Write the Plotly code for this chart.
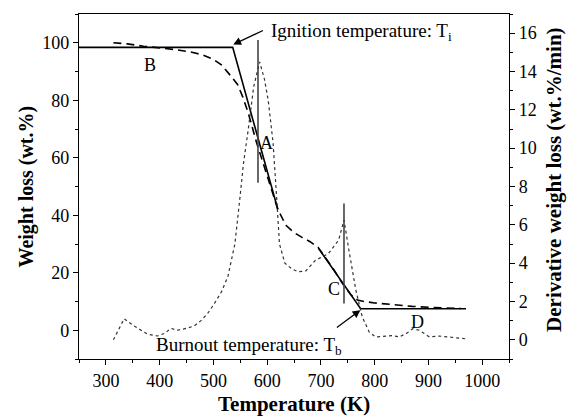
import plotly.graph_objects as go

# TG curve (dashed), weight loss wt.%
tg_T = [314, 340, 370, 400, 430, 460, 480, 500, 515, 530, 545, 555, 565, 580, 600, 620,
        635, 650, 665, 680, 695, 710, 725, 740, 755, 768, 780, 800, 830, 870, 910, 960]
tg_w = [100, 99.6, 98.8, 98.2, 97.6, 96.7, 95.8, 94.2, 92.3, 89.0, 85.5, 81.0, 75.5, 65.5, 53.5, 42,
        36.5, 34.0, 32.3, 30.8, 28.8, 25.0, 20.8, 16.3, 12.5, 10.5, 10.0, 9.5, 8.9, 8.3, 7.9, 7.6]

# DTG curve (dotted), wt.%/min
dtg_T = [314, 334, 351, 377, 396, 410, 421, 433, 450, 464, 477, 490, 502, 515, 527, 540, 549,
         556, 565, 575, 586, 595, 602, 611, 618, 623, 633, 646, 658, 672, 690, 714, 733, 743,
         752, 765, 777, 790, 802, 818, 834, 846, 860, 871, 883, 902, 920, 940, 955, 971]
dtg_v = [0.0, 1.1, 0.75, 0.3, 0.2, 0.35, 0.6, 0.5, 0.6, 0.72, 1.0, 1.4, 1.9, 2.5, 3.3, 5.0, 7.3,
         9.2, 11.0, 13.2, 14.5, 13.6, 12.5, 10.3, 7.3, 5.0, 4.0, 3.7, 3.55, 3.6, 4.15, 4.5, 5.2, 6.25,
         4.7, 2.6, 1.2, 0.4, 0.15, 0.2, 0.22, 0.15, 0.35, 0.58, 0.5, 0.15, 0.2, 0.14, 0.1, 0.05]

# Tangent construction lines (solid)
tan_T = [250, 536, 620]
tan_w = [98.4, 98.4, 42]
tan2_T = [696, 774, 970]
tan2_w = [28.4, 7.5, 7.5]

# Vertical marker lines at DTG peaks
vA_T = [583, 583]
vA_w = [101, 51.3]
vC_T = [743, 743]
vC_w = [44.1, 9.3]

# Region labels
lab_text = ["B", "A", "C", "D"]
lab_T = [383, 599, 724, 880]
lab_w = [92.3, 65, 14.5, 2.9]

x_ticks = [300, 400, 500, 600, 700, 800, 900, 1000]
y_ticks = [0, 20, 40, 60, 80, 100]
y2_ticks = [0, 2, 4, 6, 8, 10, 12, 14, 16]

FONT = "Liberation Serif, Times New Roman, serif"

fig = go.Figure()
fig.add_trace(go.Scatter(x=dtg_T, y=dtg_v, yaxis="y2", mode="lines",
                         line=dict(color="#333333", width=1.2, dash="dot"), showlegend=False))
fig.add_trace(go.Scatter(x=tg_T, y=tg_w, mode="lines",
                         line=dict(color="black", width=1.6, dash="8px,5px"), showlegend=False))
for xs, ys in [(tan_T, tan_w), (tan2_T, tan2_w)]:
    fig.add_trace(go.Scatter(x=xs, y=ys, mode="lines",
                             line=dict(color="black", width=1.6), showlegend=False))
for xs, ys in [(vA_T, vA_w), (vC_T, vC_w)]:
    fig.add_trace(go.Scatter(x=xs, y=ys, mode="lines",
                             line=dict(color="#444444", width=1.6), showlegend=False))

for t, xx, yy in zip(lab_text, lab_T, lab_w):
    fig.add_annotation(x=xx, y=yy, text=t, showarrow=False,
                       font=dict(family=FONT, size=18, color="black"))

# Ignition arrow and text
fig.add_annotation(x=537, y=99.4, ax=595, ay=104.5, xref="x", yref="y", axref="x", ayref="y",
                   text="", showarrow=True, arrowhead=2, arrowsize=1.2, arrowwidth=1.3, arrowcolor="black")
fig.add_annotation(x=603, y=103.8, text="Ignition temperature: T<sub>i</sub>", showarrow=False,
                   xanchor="left", font=dict(family=FONT, size=19, color="black"))
# Burnout arrow and text
fig.add_annotation(x=773.5, y=7.0, ax=727, ay=0.6, xref="x", yref="y", axref="x", ayref="y",
                   text="", showarrow=True, arrowhead=2, arrowsize=1.2, arrowwidth=1.3, arrowcolor="black")
fig.add_annotation(x=389, y=-5.6, text="Burnout temperature: T<sub>b</sub>", showarrow=False,
                   xanchor="left", font=dict(family=FONT, size=19, color="black"))

# Axis titles (placed in paper coordinates)
fig.add_annotation(x=0.5, y=-0.172, xref="paper", yref="paper", text="<b>Temperature (K)</b>",
                   showarrow=False, yanchor="bottom", font=dict(family=FONT, size=21, color="black"))
fig.add_annotation(x=-0.121, y=0.5, xref="paper", yref="paper", text="<b>Weight loss (wt.%)</b>",
                   showarrow=False, textangle=-90, xanchor="center",
                   font=dict(family=FONT, size=20, color="black"))
fig.add_annotation(x=1.103, y=0.52, xref="paper", yref="paper",
                   text="<b>Derivative weight loss (wt.%/min)</b>",
                   showarrow=False, textangle=-90, xanchor="center",
                   font=dict(family=FONT, size=21, color="black"))

axis_common = dict(showline=True, linecolor="black", linewidth=1.3, ticks="outside", ticklen=5,
                   tickwidth=1.2, tickcolor="black", showgrid=False, zeroline=False, automargin=False,
                   tickfont=dict(family=FONT, size=18, color="black"))

fig.update_layout(
    width=567, height=419,
    margin=dict(l=79, r=58, t=14, b=60),
    paper_bgcolor="white", plot_bgcolor="white",
    xaxis=dict(range=[250, 1050], tickvals=x_ticks, mirror=True,
               minor=dict(ticks="outside", ticklen=3, dtick=50, tick0=250, tickcolor="black"),
               **axis_common),
    yaxis=dict(range=[-10, 110], tickvals=y_ticks,
               minor=dict(ticks="outside", ticklen=3, dtick=10, tick0=0, tickcolor="black"),
               **axis_common),
    yaxis2=dict(range=[-1, 17], tickvals=y2_ticks, overlaying="y", side="right",
                minor=dict(ticks="outside", ticklen=3, dtick=1, tick0=0, tickcolor="black"),
                **axis_common),
)

fig.write_html("out.html")
